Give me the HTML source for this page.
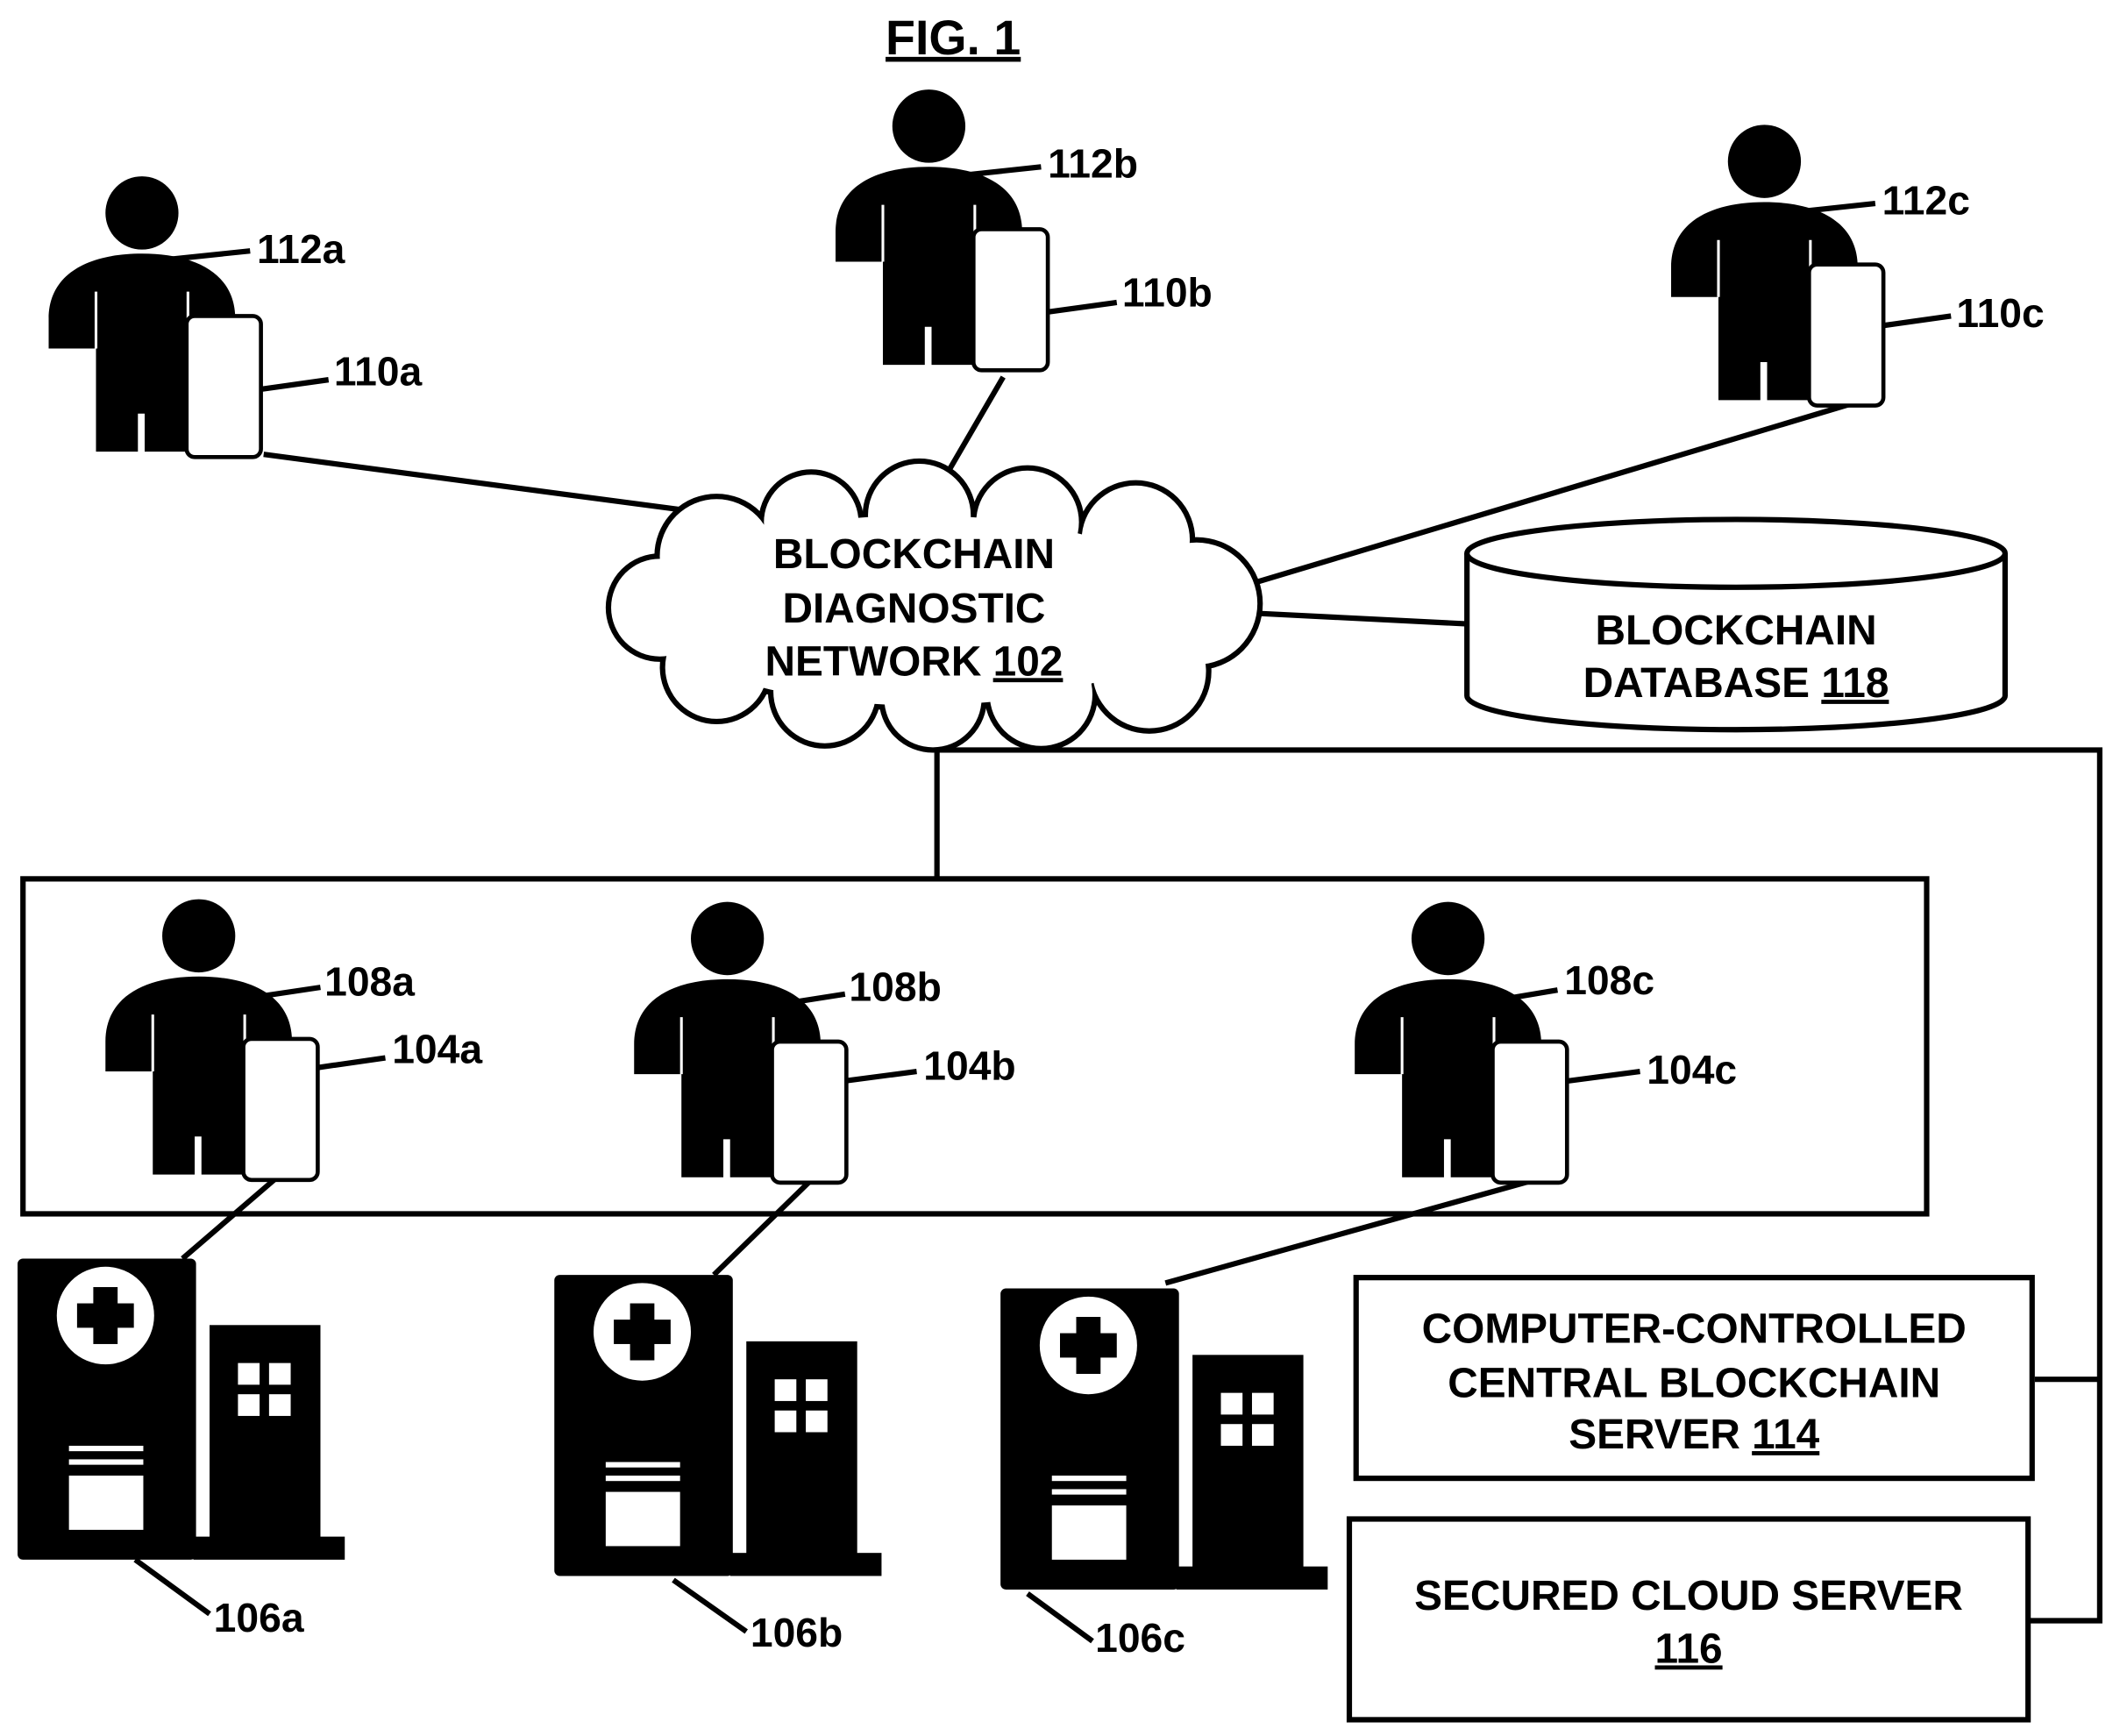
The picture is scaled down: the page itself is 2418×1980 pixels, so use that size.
<!DOCTYPE html>
<html><head><meta charset="utf-8"><style>html,body{margin:0;padding:0;background:#fff}svg{display:block}</style></head>
<body>
<svg width="2418" height="1980" viewBox="0 0 1568 1280" preserveAspectRatio="none" xmlns="http://www.w3.org/2000/svg" font-family="Liberation Sans, Arial, sans-serif" font-weight="bold">
<defs>
<g id="person">
<circle cx="0" cy="0" r="27" fill="#000"/>
<path d="M-69,100 L-69,78 C-69,45 -40,30 0,30 C40,30 69,45 69,78 L69,100 L33,100 L33,176 L2,176 L2,148 L-3,148 L-3,176 L-34,176 L-34,100 Z" fill="#000"/>
<line x1="-34" y1="58" x2="-34" y2="100" stroke="#fff" stroke-width="2"/>
<line x1="34" y1="58" x2="34" y2="100" stroke="#fff" stroke-width="2"/>
<rect x="33" y="76" width="55" height="104" rx="6" fill="#fff" stroke="#000" stroke-width="3"/>
</g>
<g id="hosp">
<rect x="0" y="0" width="132" height="222" rx="4" fill="#000"/>
<rect x="142" y="49" width="82" height="160" fill="#000"/>
<rect x="130" y="205" width="112" height="17" fill="#000"/>
<circle cx="65" cy="42" r="36" fill="#fff"/>
<rect x="56" y="21" width="18" height="42" fill="#000"/>
<rect x="44" y="33" width="42" height="18" fill="#000"/>
<rect x="163" y="77" width="16" height="16" fill="#fff"/>
<rect x="186" y="77" width="16" height="16" fill="#fff"/>
<rect x="163" y="100" width="16" height="16" fill="#fff"/>
<rect x="186" y="100" width="16" height="16" fill="#fff"/>
<rect x="38" y="138" width="55" height="4" fill="#fff"/>
<rect x="38" y="148" width="55" height="4" fill="#fff"/>
<rect x="38" y="160" width="55" height="40" fill="#fff"/>
</g>
</defs>

<text x="705" y="40" font-size="36" text-anchor="middle" text-decoration="underline">FIG. 1</text>

<g stroke="#000" stroke-width="4" fill="none">
<line x1="195" y1="335" x2="520" y2="378"/>
<line x1="742" y1="278" x2="693" y2="362"/>
<line x1="1385" y1="293" x2="910" y2="435"/>
<line x1="925" y1="452" x2="1085" y2="460"/>
<polyline points="693,545 693,648"/>
<polyline points="693,553 1553,553 1553,1195 1500,1195"/>
<line x1="1505" y1="1017" x2="1553" y2="1017"/>
<rect x="17" y="648" width="1408" height="247"/>
<rect x="1003" y="942" width="500" height="148"/>
<rect x="998" y="1120" width="502" height="148"/>
<line x1="205" y1="868" x2="135" y2="928"/>
<line x1="600" y1="870" x2="528" y2="940"/>
<line x1="1135" y1="870" x2="862" y2="946"/>
<line x1="100" y1="1150" x2="155" y2="1190"/>
<line x1="498" y1="1165" x2="552" y2="1203"/>
<line x1="760" y1="1175" x2="808" y2="1210"/>
</g>

<g stroke="#000" stroke-width="8" fill="#000">
<circle cx="530" cy="410" r="42"/><circle cx="600" cy="385" r="35"/><circle cx="680" cy="380" r="38"/><circle cx="760" cy="385" r="38"/><circle cx="840" cy="398" r="40"/><circle cx="885" cy="445" r="45"/><circle cx="850" cy="495" r="42"/><circle cx="770" cy="512" r="38"/><circle cx="690" cy="515" r="36"/><circle cx="610" cy="510" r="38"/><circle cx="530" cy="492" r="38"/><circle cx="488" cy="448" r="36"/><ellipse cx="680" cy="450" rx="200" ry="70"/>
</g>
<g fill="#fff">
<circle cx="530" cy="410" r="42"/><circle cx="600" cy="385" r="35"/><circle cx="680" cy="380" r="38"/><circle cx="760" cy="385" r="38"/><circle cx="840" cy="398" r="40"/><circle cx="885" cy="445" r="45"/><circle cx="850" cy="495" r="42"/><circle cx="770" cy="512" r="38"/><circle cx="690" cy="515" r="36"/><circle cx="610" cy="510" r="38"/><circle cx="530" cy="492" r="38"/><circle cx="488" cy="448" r="36"/><ellipse cx="680" cy="450" rx="200" ry="70"/>
</g>
<g font-size="31" text-anchor="middle">
<text x="676" y="419">BLOCKCHAIN</text>
<text x="676" y="459">DIAGNOSTIC</text>
<text x="676" y="498">NETWORK <tspan text-decoration="underline">102</tspan></text>
</g>

<path d="M1085,408 L1085,513 A199,25 0 0 0 1483,513 L1483,408" fill="#fff" stroke="#000" stroke-width="4"/>
<ellipse cx="1284" cy="408" rx="199" ry="25" fill="#fff" stroke="#000" stroke-width="4"/>
<g font-size="31" text-anchor="middle">
<text x="1284" y="475">BLOCKCHAIN</text>
<text x="1284" y="514">DATABASE <tspan text-decoration="underline">118</tspan></text>
<text x="1253" y="990">COMPUTER-CONTROLLED</text>
<text x="1253" y="1030">CENTRAL BLOCKCHAIN</text>
<text x="1253" y="1068">SERVER <tspan text-decoration="underline">114</tspan></text>
<text x="1249" y="1187">SECURED CLOUD SERVER</text>
<text x="1249" y="1226" text-decoration="underline">116</text>
</g>

<use href="#person" x="105" y="157"/>
<use href="#person" x="687" y="93"/>
<use href="#person" x="1305" y="119"/>
<use href="#person" x="147" y="690"/>
<use href="#person" x="538" y="692"/>
<use href="#person" x="1071" y="692"/>

<use href="#hosp" x="13" y="928"/>
<use href="#hosp" x="410" y="940"/>
<use href="#hosp" x="740" y="950"/>

<g stroke="#000" stroke-width="4">
<line x1="118" y1="192" x2="185" y2="185"/>
<line x1="193" y1="287" x2="243" y2="280"/>
<line x1="705" y1="130" x2="770" y2="123"/>
<line x1="775" y1="230" x2="826" y2="223"/>
<line x1="1322" y1="157" x2="1387" y2="150"/>
<line x1="1393" y1="240" x2="1443" y2="233"/>
<line x1="190" y1="735" x2="237" y2="728"/>
<line x1="236" y1="787" x2="285" y2="780"/>
<line x1="580" y1="740" x2="625" y2="733"/>
<line x1="625" y1="797" x2="678" y2="790"/>
<line x1="1110" y1="737" x2="1152" y2="730"/>
<line x1="1160" y1="797" x2="1213" y2="790"/>
</g>
<g font-size="30">
<text x="190" y="194">112a</text>
<text x="247" y="284">110a</text>
<text x="775" y="131">112b</text>
<text x="830" y="226">110b</text>
<text x="1392" y="158">112c</text>
<text x="1447" y="241">110c</text>
<text x="240" y="734">108a</text>
<text x="290" y="784">104a</text>
<text x="628" y="738">108b</text>
<text x="683" y="796">104b</text>
<text x="1157" y="733">108c</text>
<text x="1218" y="799">104c</text>
<text x="158" y="1203">106a</text>
<text x="555" y="1214">106b</text>
<text x="810" y="1218">106c</text>
</g>
</svg>
</body></html>
